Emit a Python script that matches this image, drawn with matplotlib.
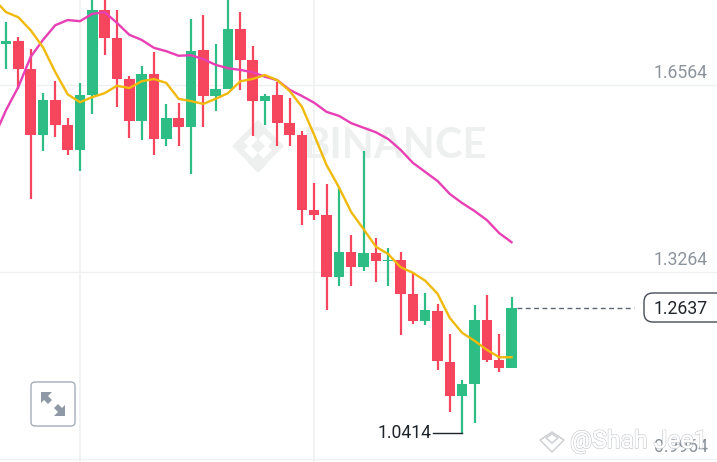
import matplotlib
matplotlib.use("Agg")
import matplotlib.pyplot as plt
import matplotlib.patheffects as pe
from matplotlib.patches import FancyBboxPatch, Polygon
from matplotlib.transforms import Affine2D

plt.rcParams['font.family'] = ['Roboto', 'DejaVu Sans']

opens = [1.729,1.734,1.685,1.568,1.630,1.586,1.542,1.639,1.789,1.739,1.667,1.593,1.676,1.561,1.598,1.582,1.718,1.637,1.649,1.755,1.701,
         1.628,1.639,1.589,1.568,1.436,1.427,1.318,1.362,1.335,1.360,1.346,1.348,1.288,1.240,1.258,1.168,1.108,1.129,1.242,1.171,1.157]
closes = [1.734,1.685,1.568,1.630,1.586,1.542,1.639,1.789,1.739,1.667,1.593,1.676,1.561,1.598,1.582,1.716,1.637,1.649,1.755,1.701,1.628,
          1.637,1.589,1.568,1.436,1.427,1.318,1.362,1.335,1.360,1.346,1.348,1.288,1.240,1.259,1.169,1.108,1.129,1.242,1.171,1.157,1.2637]
highs = [1.768,1.741,1.720,1.642,1.663,1.598,1.660,1.824,1.824,1.789,1.672,1.690,1.715,1.623,1.625,1.773,1.780,1.729,1.824,1.785,1.725,
         1.640,1.662,1.633,1.575,1.483,1.482,1.476,1.392,1.540,1.386,1.369,1.362,1.325,1.289,1.270,1.217,1.136,1.268,1.286,1.217,1.282]
lows = [1.685,1.649,1.455,1.540,1.565,1.533,1.505,1.605,1.709,1.618,1.563,1.559,1.533,1.549,1.549,1.499,1.582,1.611,1.649,1.648,1.566,
        1.586,1.549,1.549,1.409,1.418,1.259,1.302,1.302,1.328,1.309,1.302,1.215,1.235,1.233,1.153,1.079,1.0414,1.060,1.168,1.150,1.157]
# moving averages: first value sits one candle before the first candle
ma_fast = [1.808,1.785,1.776,1.753,1.723,1.679,1.640,1.626,1.635,1.642,1.655,1.651,1.663,1.667,1.660,1.632,1.628,1.623,1.632,1.642,1.663,1.667,
           1.674,1.665,1.646,1.618,1.568,1.515,1.476,1.432,1.402,1.371,1.358,1.335,1.325,1.311,1.288,1.245,1.219,1.205,1.189,1.176,1.176]
ma_slow = [1.563,1.612,1.653,1.706,1.736,1.762,1.771,1.769,1.782,1.785,1.766,1.745,1.736,1.722,1.716,1.708,1.709,1.702,1.692,1.686,1.683,1.679,
           1.671,1.665,1.648,1.637,1.625,1.609,1.602,1.589,1.581,1.573,1.561,1.542,1.519,1.503,1.487,1.464,1.448,1.434,1.418,1.395,1.379]
grid_prices = [1.6564, 1.3264, 0.9964]
grid_labels = ['1.6564', '1.3264', '0.9964']
last_price = 1.2637
low_price = 1.0414

GREEN, RED = '#2EBD85', '#F6465D'
W, H = 717, 462
fig = plt.figure(figsize=(W/100, H/100), dpi=100, facecolor='white')
ax = fig.add_axes([0, 0, 1, 1])
ax.set_xlim(-6/12.33, (W-6)/12.33)
ax.set_ylim(1.8064-0.33/187*H, 1.8064)
ax.axis('off')
px = Affine2D().scale(1, -1).translate(0, H)   # image pixels -> display


def price_to_px(p):
    return H - ax.transData.transform((0, p))[1]


# grid
for p in grid_prices:
    ax.axhline(p, color='#EFF0F2', lw=1, zorder=1)
for i in (6, 25):
    ax.axvline(i, color='#EFF0F2', lw=1.2, zorder=1)

# watermark
WM = '#EEF0F0'
ax.text(303, 146, 'BINANCE', transform=px, fontsize=30, fontweight='bold', color=WM,
        va='center', ha='left', family=['Lato', 'DejaVu Sans'], zorder=1.5)
for cx, cy, r in [(258, 130, 10), (258, 163, 10), (242, 146, 6), (274, 146, 6), (258, 146, 7)]:
    ax.add_patch(Polygon([(cx-r, cy), (cx, cy-r), (cx+r, cy), (cx, cy+r)], transform=px, fc=WM, ec='none', zorder=1.5))
ax.add_patch(Polygon([(236, 146), (258, 124), (280, 146), (258, 168)], transform=px, fc='none', ec=WM, lw=4, zorder=1.5))

# candles
for i, (o, c, h, l) in enumerate(zip(opens, closes, highs, lows)):
    col = GREEN if c >= o else RED
    ax.vlines(i, l, h, color=col, lw=1.6, zorder=3)
    ax.bar(i, abs(c-o), bottom=min(o, c), width=0.85, color=col, edgecolor='none', zorder=3)

# moving averages
xs = list(range(-1, len(opens)))
ax.plot(xs, ma_slow, color='#E83FB4', lw=1.7, zorder=4, solid_joinstyle='round')
ax.plot(xs, ma_fast, color='#F0B90B', lw=1.7, zorder=5, solid_joinstyle='round')

# price labels
FS = 12.7
for p, t in zip(grid_prices, grid_labels):
    ax.text(708, price_to_px(p) - 11.5, t, transform=px, ha='right', va='center', fontsize=FS, color='#8C939D', zorder=6)

# last price
ylast = price_to_px(last_price)
ax.plot([517, 634], [ylast, ylast], transform=px, color='#5E6673', lw=1, dashes=(3.5, 2.5), zorder=6)
ax.add_patch(FancyBboxPatch((647, 296), 80, 23, boxstyle='round,pad=3,rounding_size=9', transform=px,
                            fc='white', ec='#474D57', lw=1, zorder=6))
ax.text(708, ylast + 1, f'{last_price:.4f}', transform=px, ha='right', va='center', fontsize=FS, color='#1E2329', zorder=7)

# low marker
ylow = price_to_px(low_price)
ax.plot([433, 462], [ylow, ylow], transform=px, color='#1E2329', lw=1, zorder=6)
ax.text(432, ylow, f'{low_price:.4f}', transform=px, ha='right', va='center', fontsize=FS, color='#1E2329', zorder=7)

# expand button
ax.add_patch(FancyBboxPatch((34, 385), 38, 38, boxstyle='round,pad=3,rounding_size=4', transform=px,
                            fc='white', ec='#A5ADB8', lw=1, zorder=6))
ICON = '#8F98A6'
ax.add_patch(Polygon([(41, 392), (52, 392), (48, 396), (52, 400), (48, 404), (44, 400), (41, 403)], transform=px, fc=ICON, ec='none', zorder=7))
ax.add_patch(Polygon([(65, 416), (54, 416), (58, 412), (54, 408), (58, 404), (62, 408), (65, 405)], transform=px, fc=ICON, ec='none', zorder=7))

# author watermark
LG = '#C9CCD0'
ax.text(570, 441, '@Shah Jee1', transform=px, ha='left', va='center', fontsize=17.8, color='white', zorder=8,
        path_effects=[pe.withStroke(linewidth=1.1, foreground=LG), pe.Normal()])
for pts in [[(540, 440), (552, 432), (564, 440), (552, 452)], [(546, 438), (552, 434), (558, 438), (552, 443)]]:
    ax.add_patch(Polygon(pts, transform=px, fc='white', ec=LG, lw=1, zorder=8))

fig.savefig('out.png', dpi=100, facecolor='white')
